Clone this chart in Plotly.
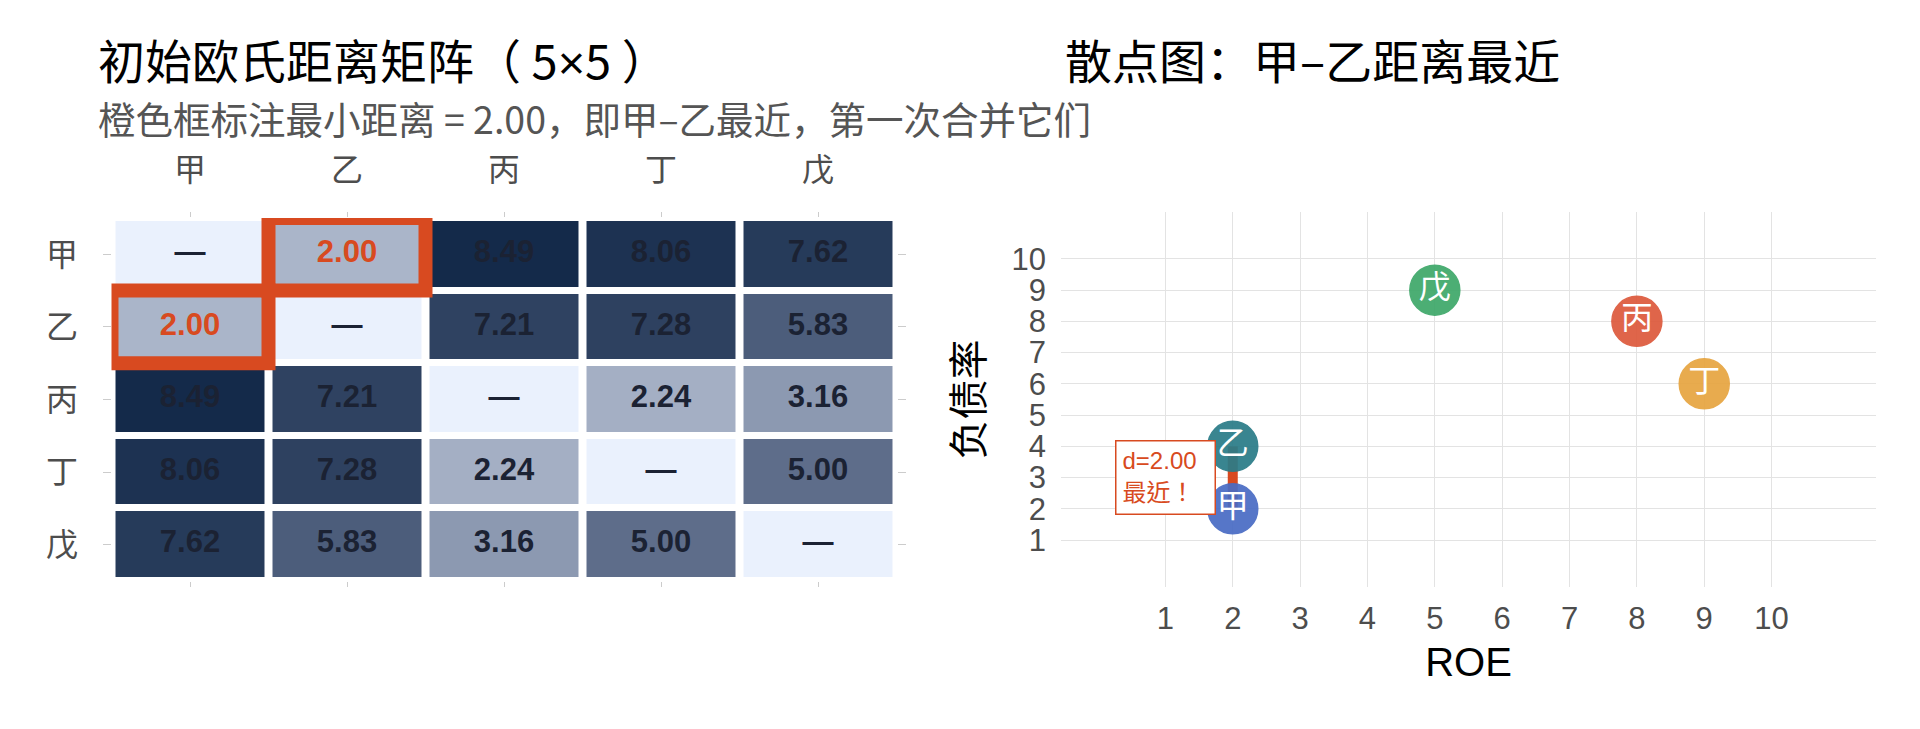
import plotly.graph_objects as go

# page body has an 8px margin, so the figure is sized to fit the window
OFF = 8
W, H = 1920 - 2 * OFF, 729 - 2 * OFF


def px_x(p):
    return (p - OFF) / W


def px_y(p):
    return 1 - (p - OFF) / H


# ---- data ----
names = ["甲", "乙", "丙", "丁", "戊"]
roe = [2, 2, 8, 9, 5]
debt = [2, 4, 8, 6, 9]
point_colors = ["#4a6cc4", "#2b7c88", "#dd5a3d", "#e7a541", "#3fa86a"]

dist = [
    [None, 2.00, 8.49, 8.06, 7.62],
    [2.00, None, 7.21, 7.28, 5.83],
    [8.49, 7.21, None, 2.24, 3.16],
    [8.06, 7.28, 2.24, None, 5.00],
    [7.62, 5.83, 3.16, 5.00, None],
]
grid_ticks = list(range(1, 11))

ORANGE = "#d84a20"
CJK = "Noto Sans CJK SC"
MIXED = "Liberation Sans, Noto Sans CJK SC"

n = len(names)
idx = list(range(n))

# closest pair (off-diagonal minimum)
vals = [v for row in dist for v in row if v is not None]
min_d, max_d = min(vals), max(vals)
min_cells = [(i, j) for i in idx for j in idx if dist[i][j] == min_d]
a, b = min_cells[0]

diag = [[1 if i == j else None for j in idx] for i in idx]

fig = go.Figure()

# ---- left: distance matrix ----
fig.add_trace(go.Heatmap(
    x=idx, y=idx, z=dist, zmin=min_d, zmax=max_d,
    colorscale=[[0, "#aab5c9"], [0.46, "#5e6d8a"], [1, "#142a4a"]],
    showscale=False, xgap=8, ygap=7, hoverinfo="skip",
))
fig.add_trace(go.Heatmap(
    x=idx, y=idx, z=diag, colorscale=[[0, "#eaf1fd"], [1, "#eaf1fd"]],
    showscale=False, xgap=8, ygap=7, hoverinfo="skip",
))

cx, cy, ctext, ccol = [], [], [], []
for i in idx:
    for j in idx:
        cx.append(j)
        cy.append(i)
        if dist[i][j] is None:
            ctext.append("<b>—</b>")
            ccol.append("#1b2233")
        else:
            ctext.append(f"<b>{dist[i][j]:.2f}</b>")
            ccol.append(ORANGE if (i, j) in min_cells else "#1b2233")
fig.add_trace(go.Scatter(
    x=cx, y=cy, text=ctext, mode="text",
    textfont=dict(family="Liberation Sans", size=31, color=ccol),
    hoverinfo="skip", showlegend=False,
))

for (i, j) in min_cells:
    fig.add_shape(type="rect", xref="x", yref="y",
                  x0=j - 0.5, x1=j + 0.5, y0=i - 0.5, y1=i + 0.5,
                  line=dict(color=ORANGE, width=14), layer="above")

# ---- right: scatter ----
fig.add_trace(go.Scatter(
    x=[roe[a], roe[b]], y=[debt[a], debt[b]], mode="lines",
    line=dict(color=ORANGE, width=10), xaxis="x2", yaxis="y2",
    hoverinfo="skip", showlegend=False,
))
fig.add_trace(go.Scatter(
    x=roe, y=debt, text=names, mode="markers+text", textposition="middle center",
    marker=dict(size=50, color=point_colors, opacity=0.93,
                line=dict(color=point_colors, width=1.5)),
    textfont=dict(family=CJK, size=32, color="white"),
    xaxis="x2", yaxis="y2", showlegend=False,
))

fig.add_annotation(
    x=1, y=3, xref="x2", yref="y2", showarrow=False,
    text=f"d={min_d:.2f}<br><span style='font-family:Noto Sans CJK TC'>最近！</span>",
    align="left",
    font=dict(family=MIXED, size=24, color=ORANGE),
    bordercolor=ORANGE, borderwidth=1.5, borderpad=6, bgcolor="white",
    width=86, height=60,
)

# ---- titles ----
fig.add_annotation(x=px_x(96), y=px_y(58), xref="paper", yref="paper",
                   xanchor="left", yanchor="middle", showarrow=False,
                   text="初始欧氏距离矩阵（ 5<span style='font-family:Liberation Sans'>×</span>5 ）",
                   font=dict(family=CJK, size=47, color="black"))
fig.add_annotation(x=px_x(96), y=px_y(118), xref="paper", yref="paper",
                   xanchor="left", yanchor="middle", showarrow=False,
                   text=f"橙色框标注最小距离 = {min_d:.2f}，即{names[a]}–{names[b]}最近，第一次合并它们",
                   font=dict(family=CJK, size=37.5, color="#555555"))
fig.add_annotation(x=px_x(1063), y=px_y(59), xref="paper", yref="paper",
                   xanchor="left", yanchor="middle", showarrow=False,
                   text=f"散点图：{names[a]}–{names[b]}距离最近",
                   font=dict(family=CJK, size=47, color="black"))

tick_font = dict(family=MIXED, size=31, color="#4d4d4d")
cat_font = dict(family=CJK, size=32, color="#4d4d4d")

fig.update_layout(
    width=W, height=H, autosize=False,
    margin=dict(l=0, r=0, t=0, b=0),
    paper_bgcolor="white", plot_bgcolor="white",
    showlegend=False,
    xaxis=dict(domain=[px_x(111.5), px_x(896.5)], range=[-0.5, n - 0.5],
               tickvals=idx, ticktext=names, side="top",
               ticks="outside", ticklen=5, tickcolor="#cccccc", mirror="ticks",
               showline=False, showgrid=False, zeroline=False,
               tickfont=cat_font, ticklabelstandoff=18),
    yaxis=dict(domain=[px_y(581), px_y(218)], range=[n - 0.5, -0.5],
               tickvals=idx, ticktext=names,
               ticks="outside", ticklen=8, tickcolor="#cccccc", mirror="ticks",
               showline=False, showgrid=False, zeroline=False,
               tickfont=cat_font, ticklabelstandoff=18),
    xaxis2=dict(domain=[px_x(1061), px_x(1876)], range=[-0.55, 11.55], anchor="y2",
                tickvals=grid_ticks, showgrid=True, gridcolor="#e3e3e3", gridwidth=1.3,
                zeroline=False, showline=False, ticks="", tickfont=tick_font,
                ticklabelstandoff=10,
                title=dict(text="ROE", font=dict(family=MIXED, size=40, color="black"),
                           standoff=12)),
    yaxis2=dict(domain=[px_y(587), px_y(212)], range=[-0.5, 11.5], anchor="x2",
                tickvals=grid_ticks, showgrid=True, gridcolor="#e3e3e3", gridwidth=1.3,
                zeroline=False, showline=False, ticks="", tickfont=tick_font,
                ticklabelstandoff=14,
                title=dict(text="负债率", font=dict(family=CJK, size=40, color="black"),
                           standoff=15)),
)

fig.write_html("out.html")
